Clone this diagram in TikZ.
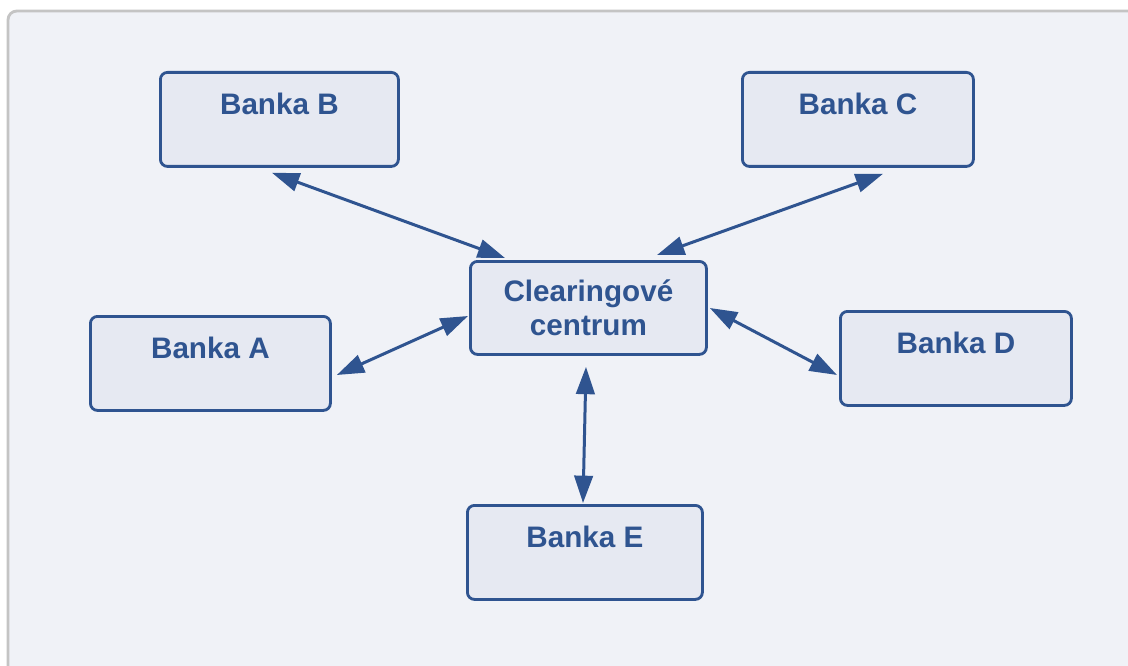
\documentclass[tikz,border=0pt]{standalone}
\usepackage{fontspec}
\setmainfont{Liberation Sans}
\usetikzlibrary{arrows.meta,calc}
\newdimen\px \px=0.5669pt
\definecolor{boxblue}{HTML}{2F5490}
\definecolor{boxfill}{HTML}{E6E9F2}
\definecolor{bgfill}{HTML}{F0F2F7}
\definecolor{framegray}{HTML}{C4C4C4}
\begin{document}
\begin{tikzpicture}[x=\px,y=-\px,
  bank/.style={draw=boxblue, line width=1.6pt, fill=boxfill, rounded corners=4pt,
    anchor=north west, inner xsep=0pt, inner ysep=0pt,
    text=boxblue, font=\fontsize{16.8}{19.3}\selectfont\bfseries,
    text height=42\px},
  link/.style={draw=boxblue, line width=1.7pt,
    {Triangle[length=15.5pt,width=10.5pt]}-{Triangle[length=15.5pt,width=10.5pt]}}]
\useasboundingbox (0,0) rectangle (1128,666);
\clip (0,0) rectangle (1128,666);
\fill[white] (0,0) rectangle (1128,666);
\draw[framegray, line width=1.6pt, fill=bgfill, rounded corners=5pt] (8,11) rectangle (1160,700);
% nodes
\node[bank, minimum width=238\px, text depth=52\px] (b) at (159,71) {Banka B};
\node[bank, minimum width=231\px, text depth=52\px] (c) at (741,71) {Banka C};
\node[bank, minimum width=240\px, text depth=52\px] (a) at (89,315) {Banka A};
\node[bank, minimum width=231\px, text depth=52\px] (d) at (839,310) {Banka D};
\node[bank, minimum width=235\px, text depth=52\px] (e) at (466,504) {Banka E};
\node[bank, minimum width=236\px, minimum height=93\px, text height=, text depth=,
  align=center] (m) at (469,260) {Clearingové\\centrum};
% connectors
\draw[link] ($(b.south west)+(113,5)$) -- ($(m.north west)+(36,-2)$);
\draw[link] ($(c.south west)+(142,6)$) -- ($(m.north west)+(188,-5)$);
\draw[link] ($(a.north east)+(5,60)$) -- ($(m.north west)+(-1,56)$);
\draw[link] ($(m.north east)+(2,48)$) -- ($(d.north west)+(-2,65)$);
\draw[link] ($(m.south west)+(117,11)$) -- ($(e.north west)+(117,-1)$);
\end{tikzpicture}
\end{document}
